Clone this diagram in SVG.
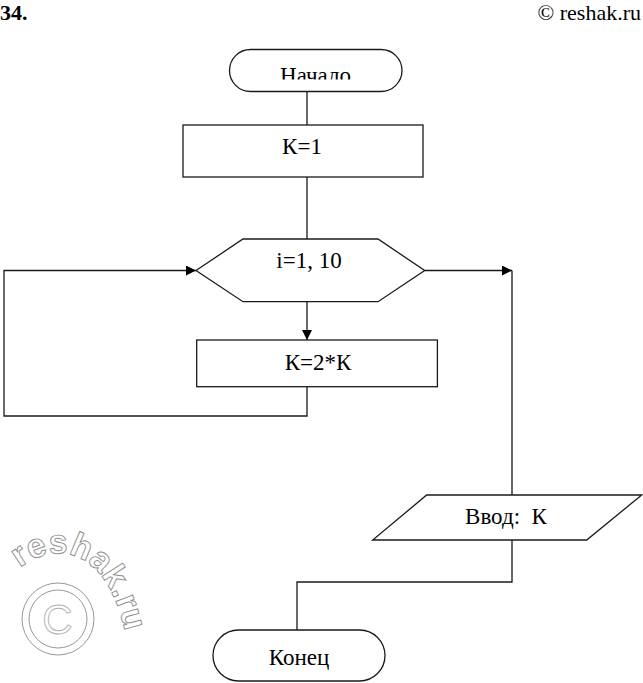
<svg xmlns="http://www.w3.org/2000/svg" width="643" height="683" viewBox="0 0 643 683">
<style>
.shape{fill:#fff;stroke:#1a1a1a;stroke-width:1.3}
.conn{fill:none;stroke:#1a1a1a;stroke-width:1.3}
.lbl{font-family:"Liberation Serif","Times New Roman",serif;font-size:23px;fill:#000;text-anchor:middle}
.wm{fill:none;stroke:#8c8c8c;stroke-width:0.9}
</style>
<defs>
<marker id="arr" markerUnits="userSpaceOnUse" markerWidth="11" markerHeight="10" refX="10" refY="5" orient="auto">
<path d="M0,0 L10,5 L0,10 z" fill="#000"/>
</marker>
<clipPath id="clipStart"><rect x="220" y="40" width="200" height="39.5"/></clipPath>
<path id="wmArc" d="M20,568 C 55,540 112,545 128,648"/>
</defs>
<rect width="643" height="683" fill="#fff"/>

<g id="header">
<text x="0" y="20" style="font-family:'Liberation Serif',serif;font-size:22px;font-weight:bold">34.</text>
<text x="641" y="20" style="font-family:'Liberation Serif',serif;font-size:22px;text-anchor:end">© reshak.ru</text>
</g>

<g id="watermark">
<text class="wm" style="font-family:'Liberation Sans',Arial,sans-serif;font-size:34px;font-weight:bold"><textPath href="#wmArc">reshak.ru</textPath></text>
<circle class="wm" cx="58" cy="619" r="36" stroke="#c4c4c4"/>
<circle class="wm" cx="58" cy="619" r="29" stroke="#c4c4c4"/>
<text class="wm" x="57.5" y="634" style="font-family:'Liberation Sans',Arial,sans-serif;font-size:42px;text-anchor:middle;stroke:#b0b0b0">C</text>
</g>

<g id="connectors">
<path class="conn" d="M307,91 V125"/>
<path class="conn" d="M307,177 V239"/>
<path class="conn" d="M307,301.7 V340" marker-end="url(#arr)"/>
<path class="conn" d="M307,387 V416 H4 V270.5 H196" marker-end="url(#arr)"/>
<path class="conn" d="M424.7,270.5 H512" marker-end="url(#arr)"/>
<path class="conn" d="M512,270.5 V495"/>
<path class="conn" d="M512,540 V582 H297 V630"/>
</g>

<g id="start">
<rect class="shape" x="229.5" y="49.5" width="172.5" height="42" rx="21"/>
<text class="lbl" x="315.5" y="83" clip-path="url(#clipStart)">Начало</text>
</g>

<g id="k1">
<rect class="shape" x="183" y="125" width="240" height="52"/>
<text class="lbl" x="302" y="154">К=1</text>
</g>

<g id="loop">
<polygon class="shape" points="196,270.5 243,239 378,239 424.7,270.5 378,301.7 243,301.7"/>
<text class="lbl" x="309" y="268">i=1, 10</text>
</g>

<g id="k2k">
<rect class="shape" x="196.7" y="340" width="240.7" height="46.7"/>
<text class="lbl" x="318" y="370">К=2*К</text>
</g>

<g id="input">
<polygon class="shape" points="426.7,495 641.7,495 586.7,540 372.7,540"/>
<text class="lbl" x="506" y="523.5" xml:space="preserve">Ввод:  К</text>
</g>

<g id="end">
<rect class="shape" x="213" y="630" width="172" height="51" rx="25.5"/>
<text class="lbl" x="299" y="665">Конец</text>
</g>
</svg>
